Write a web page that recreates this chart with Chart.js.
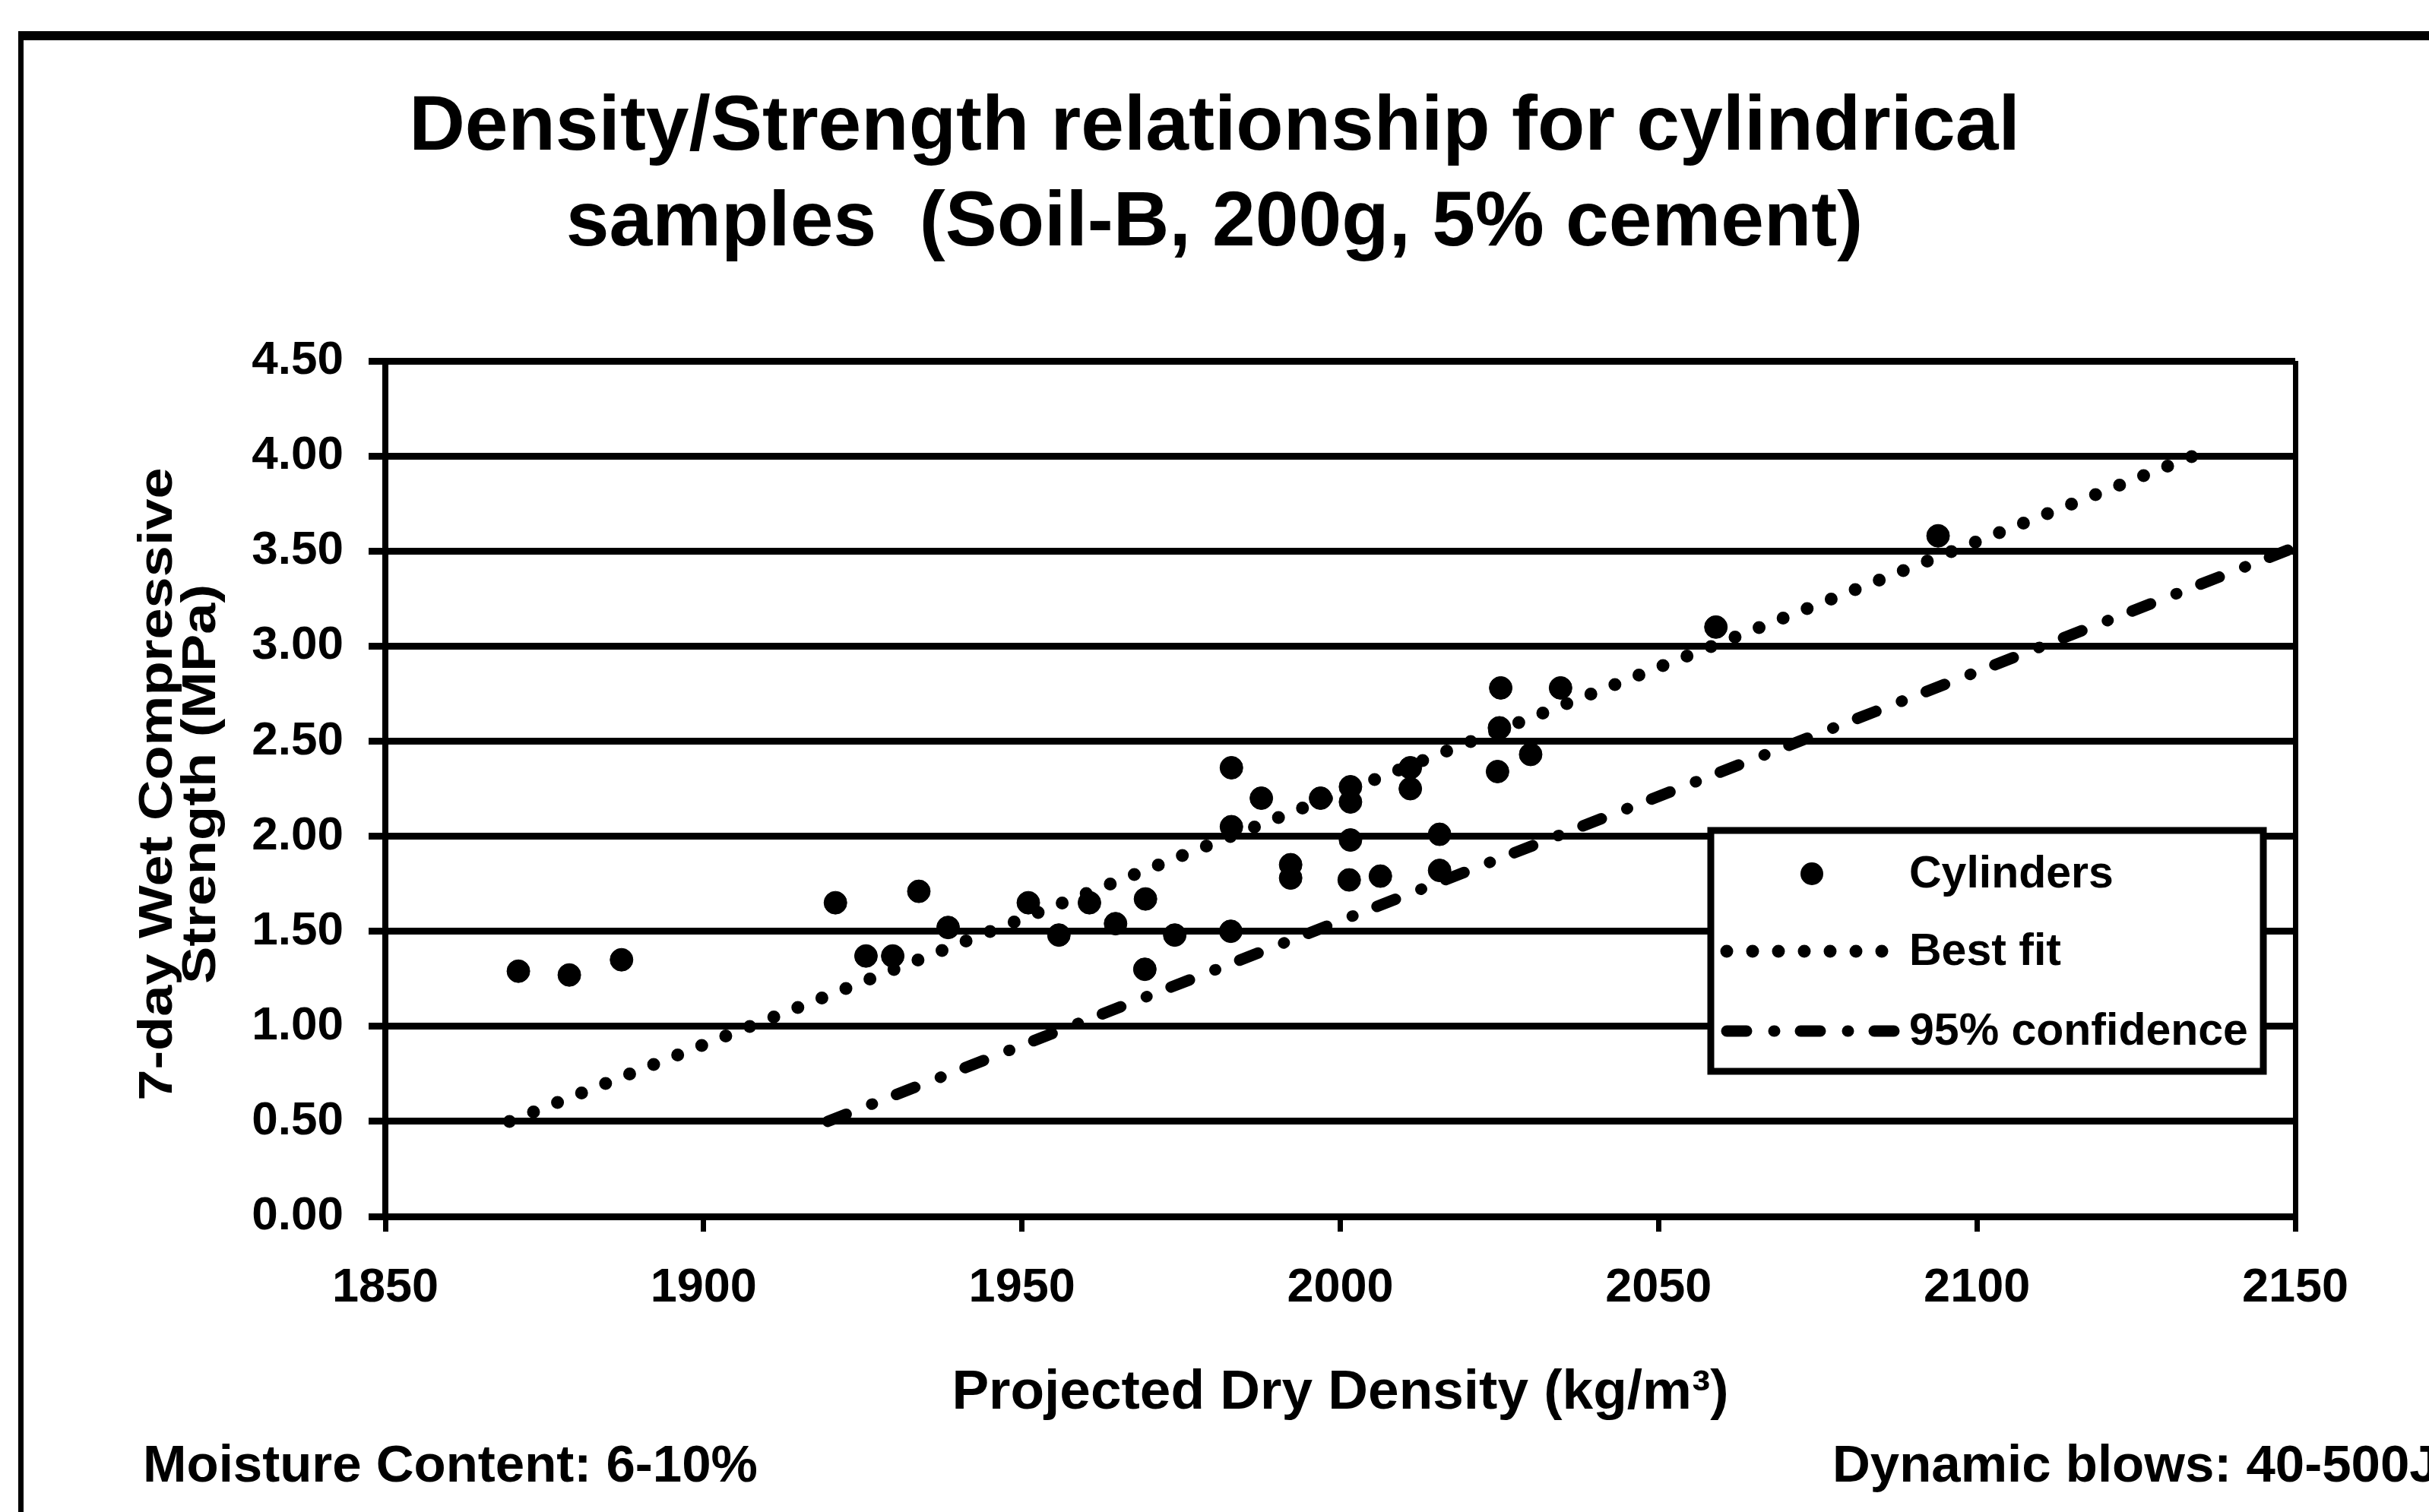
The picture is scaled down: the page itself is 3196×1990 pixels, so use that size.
<!DOCTYPE html>
<html>
<head>
<meta charset="utf-8">
<script src="https://cdn.jsdelivr.net/npm/chart.js@4.4.1/dist/chart.umd.min.js"></script>
<style>
  html, body { margin: 0; padding: 0; background: #fff; }
  #wrap { width: 3196px; height: 1990px; position: relative; }
</style>
</head>
<body>
<div id="wrap"><canvas id="densityChart" width="3196" height="1990"></canvas></div>
<script>
// cylinder samples
var density = [1870.9, 1878.9, 1887.1, 1920.7, 1925.5, 1929.7, 1933.8, 1938.4, 1951.0, 1955.8,
               1960.6, 1964.7, 1969.4, 1969.3, 1974.0, 1982.9, 1982.9, 1982.8, 1987.6, 1992.2,
               1992.2, 1996.9, 2001.6, 2001.6, 2001.6, 2001.4, 2006.3, 2011.0, 2011.0, 2015.6,
               2015.6, 2024.7, 2025.0, 2025.2, 2029.9, 2034.6, 2059.0, 2093.9];
var strength = [1.29, 1.27, 1.35, 1.65, 1.37, 1.37, 1.71, 1.52, 1.65, 1.48,
                1.65, 1.54, 1.67, 1.30, 1.48, 2.36, 2.05, 1.50, 2.20, 1.85,
                1.78, 2.20, 2.26, 2.18, 1.98, 1.77, 1.79, 2.36, 2.25, 2.01,
                1.82, 2.34, 2.57, 2.78, 2.43, 2.78, 3.10, 3.58];

// best fit and 95% confidence lines (end points)
var fitX = [1869.5, 2134];
var fitY = [0.5, 4.0];
var confX = [1919.5, 2150];
var confY = [0.5, 3.52];

var xTickLabels = ['1850', '1900', '1950', '2000', '2050', '2100', '2150'];
var yTickLabels = ['0.00', '0.50', '1.00', '1.50', '2.00', '2.50', '3.00', '3.50', '4.00', '4.50'];

var seriesNames = ['Cylinders', 'Best fit', '95% confidence'];
var titleLines = ['Density/Strength relationship for cylindrical', 'samples  (Soil-B, 200g, 5% cement)'];
var xTitle = 'Projected Dry Density (kg/m\u00b3)';
var yTitle = ['7-day Wet Compressive', 'Strength (MPa)'];
var noteLeft = 'Moisture Content: 6-10%';
var noteRight = 'Dynamic blows: 40-500J';

var FONT = '"Liberation Sans", Arial, sans-serif';

function pairs(xs, ys) {
  return xs.map(function(x, i) { return {x: x, y: ys[i]}; });
}

// outer frame, white background and the centred title
var framePlugin = {
  id: 'frame',
  beforeDraw: function(chart) {
    var ctx = chart.ctx;
    ctx.save();
    ctx.fillStyle = '#fff';
    ctx.fillRect(0, 0, chart.width, chart.height);
    ctx.fillStyle = '#000';
    ctx.fillRect(24, 41, chart.width - 24, 12);
    ctx.fillRect(24, 41, 7, chart.height - 41);

    ctx.font = 'bold 102px ' + FONT;
    ctx.textAlign = 'center';
    ctx.textBaseline = 'alphabetic';
    ctx.fillText(titleLines[0], 1598, 197);
    ctx.fillText(titleLines[1], 1598, 323);

    // y axis title, two rotated lines, glyphs a bit squashed like the original
    var midY = (chart.chartArea.top + chart.chartArea.bottom) / 2 - 6;
    [226, 283].forEach(function(bx, i) {
      ctx.save();
      ctx.translate(bx, midY);
      ctx.rotate(-Math.PI / 2);
      ctx.scale(1, 0.85);
      ctx.font = 'bold 74px ' + FONT;
      ctx.fillText(yTitle[i], 0, 0);
      ctx.restore();
    });
    ctx.restore();
  }
};

// legend box inside the plot, plus the two footnotes
var boxLegend = {
  id: 'boxLegend',
  afterDraw: function(chart) {
    var ctx = chart.ctx;
    var ds = chart.data.datasets;
    ctx.save();
    ctx.fillStyle = '#fff';
    ctx.fillRect(2251, 1093, 727, 317);
    ctx.strokeStyle = '#000';
    ctx.lineWidth = 9;
    ctx.strokeRect(2251, 1093, 727, 317);

    var rows = [1150, 1252, 1357];
    ctx.font = 'bold 59px ' + FONT;
    ctx.textBaseline = 'middle';
    ctx.textAlign = 'left';

    // marker
    ctx.fillStyle = ds[0].backgroundColor;
    ctx.beginPath();
    ctx.arc(2384, rows[0], ds[0].pointRadius, 0, Math.PI * 2);
    ctx.fill();

    // line samples
    [1, 2].forEach(function(k) {
      ctx.beginPath();
      ctx.setLineDash(ds[k].borderDash);
      ctx.lineCap = ds[k].borderCapStyle;
      ctx.lineWidth = ds[k].borderWidth;
      ctx.strokeStyle = ds[k].borderColor;
      ctx.moveTo(2272, rows[k]);
      ctx.lineTo(2492, rows[k]);
      ctx.stroke();
    });
    ctx.setLineDash([]);

    ctx.fillStyle = '#000';
    ds.forEach(function(d, k) {
      ctx.fillText(d.label, 2512, rows[k] + 2);
    });

    ctx.font = 'bold 69px ' + FONT;
    ctx.textBaseline = 'alphabetic';
    ctx.fillText(noteLeft, 188, 1950);
    ctx.fillText(noteRight, 2411, 1950);
    ctx.restore();
  }
};

var ctx = document.getElementById('densityChart').getContext('2d');
new Chart(ctx, {
  type: 'scatter',
  data: {
    datasets: [
      {
        label: seriesNames[0],
        data: pairs(density, strength),
        backgroundColor: '#000',
        borderColor: '#000',
        pointRadius: 15,
        pointHoverRadius: 15,
        showLine: false,
        order: 0
      },
      {
        label: seriesNames[1],
        data: pairs(fitX, fitY),
        showLine: true,
        borderColor: '#000',
        backgroundColor: '#000',
        borderWidth: 17,
        borderDash: [0, 34],
        borderCapStyle: 'round',
        pointRadius: 0,
        fill: false,
        order: 1
      },
      {
        label: seriesNames[2],
        data: pairs(confX, confY),
        showLine: true,
        borderColor: '#000',
        backgroundColor: '#000',
        borderWidth: 15,
        borderDash: [26, 36, 1, 34],
        borderCapStyle: 'round',
        pointRadius: 0,
        fill: false,
        order: 2
      }
    ]
  },
  options: {
    responsive: false,
    animation: false,
    events: [],
    layout: { padding: { left: 0, right: 176, top: 475, bottom: 0 } },
    plugins: {
      legend: { display: false },
      tooltip: { enabled: false },
      title: { display: false }
    },
    scales: {
      x: {
        type: 'linear',
        min: 1850,
        max: 2150,
        afterFit: function(s) { s.height = 389; },
        ticks: {
          stepSize: 50,
          color: '#000',
          padding: 37,
          maxRotation: 0,
          font: { family: FONT, size: 63, weight: 'bold' },
          callback: function(v, i) { return xTickLabels[i]; }
        },
        grid: {
          drawOnChartArea: true,
          drawTicks: true,
          tickLength: 20,
          lineWidth: 7,
          tickColor: '#000',
          color: function(c) { return (c.tick && c.tick.value === 2150) ? '#000' : 'rgba(0,0,0,0)'; }
        },
        border: { display: true, color: '#000', width: 8 },
        title: {
          display: true,
          text: xTitle,
          color: '#000',
          font: { family: FONT, size: 73, weight: 'bold', lineHeight: 1.2 },
          padding: { top: 0, bottom: 112 }
        }
      },
      y: {
        type: 'linear',
        min: 0,
        max: 4.5,
        afterFit: function(s) { s.width = 507; },
        ticks: {
          stepSize: 0.5,
          color: '#000',
          padding: 33,
          font: { family: FONT, size: 62, weight: 'bold' },
          callback: function(v, i) { return yTickLabels[i]; }
        },
        grid: {
          color: '#000',
          lineWidth: 9,
          drawTicks: true,
          tickLength: 22
        },
        border: { display: true, color: '#000', width: 8 },
        title: { display: false }
      }
    }
  },
  plugins: [framePlugin, boxLegend]
});
</script>
</body>
</html>
